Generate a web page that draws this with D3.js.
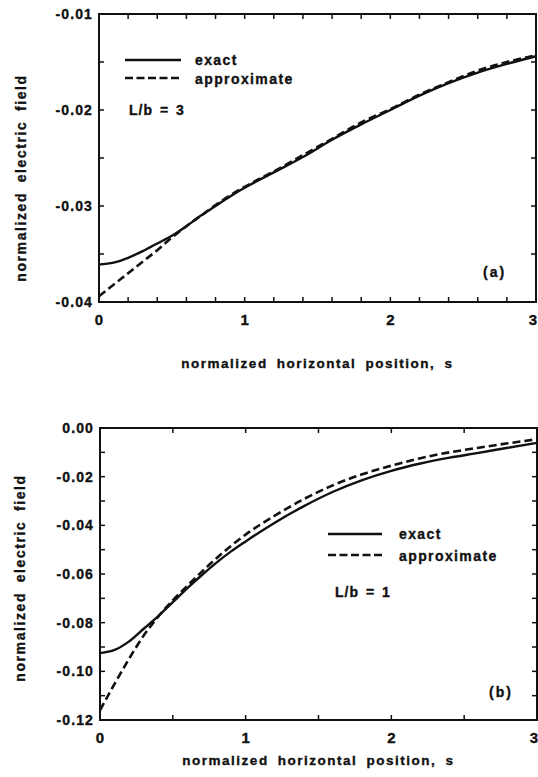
<!DOCTYPE html>
<html>
<head>
<meta charset="utf-8">
<script src="https://cdn.jsdelivr.net/npm/d3@7"></script>
<style>
  html, body { margin: 0; padding: 0; background: #fff; }
  svg text { font-family: "Liberation Sans", Arial, Helvetica, sans-serif; font-weight: bold; fill: #111; stroke: #111; stroke-width: 0.35px; }
</style>
</head>
<body>
<svg id="chart" width="538" height="777"></svg>
<script>
// ---- Data ----
const sA = [0, 0.1, 0.2, 0.3, 0.4, 0.5, 0.6, 0.7, 0.8, 0.9, 1.0, 1.2, 1.4, 1.6, 1.8, 2.0, 2.2, 2.4, 2.6, 2.8, 3.0];
const exactA = [-0.0361, -0.0359, -0.0354, -0.0347, -0.0339, -0.0331, -0.0321, -0.0310, -0.0300, -0.0290, -0.0281,
                -0.0265, -0.0249, -0.0231, -0.0215, -0.0200, -0.0185, -0.0172, -0.0161, -0.0152, -0.0144];
const approxA = [-0.0394, -0.0382, -0.0370, -0.0358, -0.0346, -0.0333, -0.0321, -0.0310, -0.0299, -0.0289, -0.0280,
                 -0.0264, -0.0247, -0.0230, -0.0213, -0.0199, -0.0184, -0.0171, -0.0159, -0.0150, -0.0143];

const sB = [0, 0.1, 0.2, 0.3, 0.4, 0.5, 0.6, 0.7, 0.8, 0.9, 1.0, 1.2, 1.4, 1.6, 1.8, 2.0, 2.2, 2.4, 2.6, 2.8, 3.0];
const exactB = [-0.0925, -0.0912, -0.0877, -0.0825, -0.0773, -0.0716, -0.0658, -0.0604, -0.0553, -0.0507, -0.0466,
                -0.0389, -0.0321, -0.0262, -0.0214, -0.0176, -0.0146, -0.0122, -0.0102, -0.0081, -0.0061];
const approxB = [-0.1160, -0.1052, -0.0948, -0.0853, -0.0775, -0.0708, -0.0648, -0.0590, -0.0535, -0.0484, -0.0438,
                 -0.0360, -0.0292, -0.0235, -0.0190, -0.0155, -0.0124, -0.0100, -0.0081, -0.0063, -0.0046];

const xTickLabels = ["0", "1", "2", "3"];
const yTickLabelsA = ["-0.01", "-0.02", "-0.03", "-0.04"];
const yTickLabelsB = ["0.00", "-0.02", "-0.04", "-0.06", "-0.08", "-0.10", "-0.12"];
const seriesNames = ["exact", "approximate"];

const svg = d3.select("#chart");
const LS = "1.6px";

function panel(cfg) {
  const g = svg.append("g");
  const x = d3.scaleLinear().domain([0, 3]).range([cfg.left, cfg.right]);
  const y = d3.scaleLinear().domain(cfg.ydom).range([cfg.bottom, cfg.top]);

  // ticks (inside) on all four sides
  const xt = d3.range(0, 3 + 1e-9, cfg.xstep);
  const yt = d3.range(cfg.ydom[0], cfg.ydom[1] + 1e-9, cfg.ystep);
  const tk = g.append("g").attr("stroke", "#111").attr("stroke-width", 1.5);
  xt.forEach(v => {
    const len = 5;
    tk.append("line").attr("x1", x(v)).attr("x2", x(v)).attr("y1", cfg.bottom).attr("y2", cfg.bottom - len);
    tk.append("line").attr("x1", x(v)).attr("x2", x(v)).attr("y1", cfg.top).attr("y2", cfg.top + len);
  });
  yt.forEach(v => {
    const len = 5;
    tk.append("line").attr("y1", y(v)).attr("y2", y(v)).attr("x1", cfg.left).attr("x2", cfg.left + len);
    tk.append("line").attr("y1", y(v)).attr("y2", y(v)).attr("x1", cfg.right).attr("x2", cfg.right - len);
  });

  // frame
  g.append("rect").attr("x", cfg.left).attr("y", cfg.top)
    .attr("width", cfg.right - cfg.left).attr("height", cfg.bottom - cfg.top)
    .attr("fill", "none").attr("stroke", "#111").attr("stroke-width", 2);

  // x tick labels
  xTickLabels.forEach((t, i) => {
    const last = i === xTickLabels.length - 1;
    g.append("text").attr("x", last ? cfg.right + 1 : x(+t)).attr("y", cfg.bottom + 23)
      .attr("text-anchor", last ? "end" : "middle").style("font-size", "15px").text(t);
  });
  // y tick labels
  cfg.yLabels.forEach(t => {
    g.append("text").attr("x", cfg.left - 6).attr("y", y(+t) + 5)
      .attr("text-anchor", "end").style("font-size", "14px").style("letter-spacing", "1.1px").text(t);
  });

  // axis titles
  g.append("text").attr("x", (cfg.left + cfg.right) / 2).attr("y", cfg.xTitleY)
    .attr("text-anchor", "middle").style("font-size", "13.5px")
    .style("letter-spacing", "1.5px").style("word-spacing", "4px")
    .text("normalized horizontal position, s");
  g.append("text")
    .attr("transform", `translate(${cfg.yTitleX},${cfg.yTitleC}) rotate(-90)`)
    .attr("text-anchor", "middle").style("font-size", "14px")
    .style("letter-spacing", LS).style("word-spacing", "4px")
    .text("normalized electric field");

  // curves
  const line = d3.line().x(d => x(d[0])).y(d => y(d[1])).curve(d3.curveMonotoneX);
  g.append("path").datum(cfg.s.map((s, i) => [s, cfg.exact[i]]))
    .attr("d", line).attr("fill", "none").attr("stroke", "#111").attr("stroke-width", 2.4);
  g.append("path").datum(cfg.s.map((s, i) => [s, cfg.approx[i]]))
    .attr("d", line).attr("fill", "none").attr("stroke", "#111").attr("stroke-width", 2.6)
    .attr("stroke-dasharray", "8,4");

  // legend
  const L = cfg.legend;
  g.append("line").attr("x1", L.x1).attr("x2", L.x2).attr("y1", L.y1).attr("y2", L.y1)
    .attr("stroke", "#111").attr("stroke-width", 2.4);
  g.append("line").attr("x1", L.x1).attr("x2", L.x2).attr("y1", L.y2).attr("y2", L.y2)
    .attr("stroke", "#111").attr("stroke-width", 2.6).attr("stroke-dasharray", "8,3.5");
  g.append("text").attr("x", L.tx).attr("y", L.y1 + 5).style("font-size", "14px")
    .style("letter-spacing", "1.4px").text(seriesNames[0]);
  g.append("text").attr("x", L.tx).attr("y", L.y2 + 6).style("font-size", "14px")
    .style("letter-spacing", "1.4px").text(seriesNames[1]);
  g.append("text").attr("x", L.lbx).attr("y", L.lby).style("font-size", "14px")
    .style("letter-spacing", "1px").style("word-spacing", "2px").text(L.lbText);
  g.append("text").attr("x", cfg.tagX).attr("y", cfg.tagY).style("font-size", "14px")
    .style("letter-spacing", "2px").text(cfg.tag);
}

panel({
  left: 99, right: 536, top: 14, bottom: 302,
  ydom: [-0.04, -0.01], xstep: 0.2, ystep: 0.005,
  yLabels: yTickLabelsA,
  s: sA, exact: exactA, approx: approxA,
  xTitleY: 368, yTitleX: 26, yTitleC: 178,
  legend: { x1: 125, x2: 181, y1: 60, y2: 78, tx: 195, lbx: 129, lby: 115, lbText: "L/b = 3" },
  tag: "(a)", tagX: 483, tagY: 277
});

panel({
  left: 100, right: 537, top: 428, bottom: 720,
  ydom: [-0.12, 0], xstep: 0.5, ystep: 0.01,
  yLabels: yTickLabelsB,
  s: sB, exact: exactB, approx: approxB,
  xTitleY: 765, yTitleX: 25, yTitleC: 578,
  legend: { x1: 328, x2: 382, y1: 534, y2: 555, tx: 399, lbx: 335, lby: 597, lbText: "L/b = 1" },
  tag: "(b)", tagX: 489, tagY: 697
});
</script>
</body>
</html>
